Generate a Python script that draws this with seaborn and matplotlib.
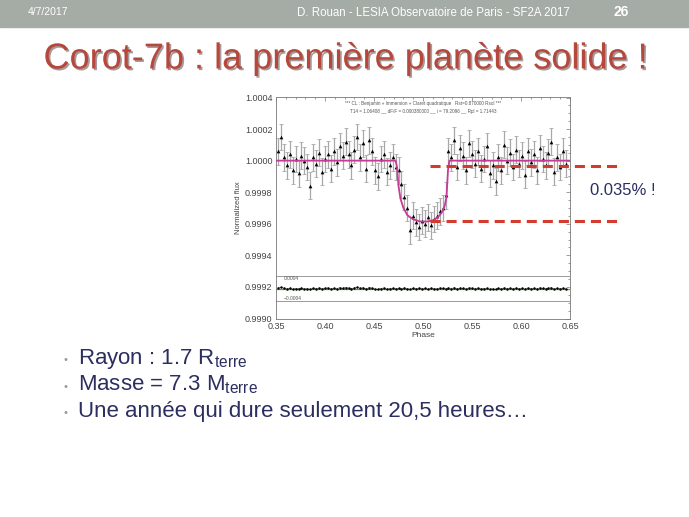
import matplotlib
matplotlib.use("Agg")
import matplotlib.pyplot as plt
import matplotlib.patheffects as pe
from matplotlib.patches import Rectangle
from matplotlib.ticker import MultipleLocator, FormatStrFormatter
import numpy as np
import pandas as pd
import seaborn as sns

phase = [0.352, 0.355, 0.358, 0.361, 0.364, 0.367, 0.370, 0.373, 0.376, 0.379,
         0.382, 0.385, 0.388, 0.391, 0.394, 0.397, 0.400, 0.403, 0.406, 0.409,
         0.412, 0.415, 0.418, 0.421, 0.424, 0.427, 0.430, 0.433, 0.436, 0.439,
         0.442, 0.445, 0.448, 0.451, 0.454, 0.457, 0.460, 0.463, 0.466, 0.469,
         0.472, 0.475, 0.478, 0.481, 0.484, 0.487, 0.490, 0.493, 0.496, 0.499,
         0.502, 0.505, 0.508, 0.511, 0.514, 0.517, 0.520, 0.523, 0.526, 0.529,
         0.532, 0.535, 0.538, 0.541, 0.544, 0.547, 0.550, 0.553, 0.556, 0.559,
         0.562, 0.565, 0.568, 0.571, 0.574, 0.577, 0.580, 0.583, 0.586, 0.589,
         0.592, 0.595, 0.598, 0.601, 0.604, 0.607, 0.610, 0.613, 0.616, 0.619,
         0.622, 0.625, 0.628, 0.631, 0.634, 0.637, 0.640, 0.643, 0.646]

# flux normalise, ecart a 1 en ppm
flux_ppm = [60, 150, 20, -30, 40, -60, 10, -80, 30, 0,
            -40, -160, 20, -20, 50, -70, 10, 40, -50, 60,
            -10, 90, 30, 120, 40, -30, 70, 150, 20, 110,
            -50, 130, 60, -60, -100, 10, 40, -70, -30, 20,
            -40, -60, -150, -230, -300, -440, -350, -390, -420, -380,
            -400, -360, -410, -370, -350, -320, -300, -220, 60, 20,
            130, -40, 80, 30, -60, 110, 40, -20, 60, -50,
            10, 90, -80, -30, -130, 20, -60, 100, 0, 50,
            -40, 70, -20, 30, -90, 60, -10, 40, -60, 80,
            10, -30, 50, 120, -70, 20, -40, 60, -20]
flux_err_ppm = 85

# residus (affiches autour de 0.99919, en ppm d'unite du graphe)
resid_ppm = [4, 8, 2, -3, 1, -5, 0, -2, 3, -4,
             -1, -6, 2, 0, 3, -2, 1, 4, -3, 2,
             0, 5, 1, 6, 3, -2, 4, 7, 1, 5,
             -3, 6, 2, -4, -5, 0, 3, -4, -1, 2,
             -2, 1, -3, 4, 0, -6, 2, -1, 3, -2,
             1, -4, 2, 0, -3, 3, 1, -2, 4, 0,
             5, -2, 3, 1, -4, 4, 2, -1, 3, -3,
             0, 2, -5, -2, -6, 1, -3, 4, 0, 2,
             -2, 3, -1, 1, -4, 3, 0, 2, -3, 4,
             1, -2, 2, 5, -4, 1, -2, 3, -1]
resid_center = 0.99919
resid_band = [0.99927, 0.99911]

# modele de transit
model_phase = [0.35, 0.472, 0.4735, 0.475, 0.477, 0.480, 0.484, 0.490, 0.497,
               0.504, 0.510, 0.515, 0.519, 0.522, 0.524, 0.5255, 0.527, 0.65]
model_ppm = [0, 0, -40, -160, -240, -300, -345, -372, -385,
             -386, -378, -360, -330, -290, -230, -60, 0, 0]

depth_levels = [0.999968, 0.999618]

bullets = [r"Rayon : 1.7 R$_\mathrm{terre}$",
           r"Masse = 7.3 M$_\mathrm{terre}$",
           "Une année qui dure seulement 20,5 heures…"]

sns.set_style("white")
plt.rcParams['font.family'] = ['Liberation Sans', 'DejaVu Sans']
plt.rcParams['mathtext.fontset'] = 'custom'
plt.rcParams['mathtext.rm'] = 'Liberation Sans'
plt.rcParams['mathtext.it'] = 'Liberation Sans:italic'

W, H = 689, 517
fig = plt.figure(figsize=(W / 100, H / 100), dpi=100)


def px(x, y):
    return x / W, 1 - y / H


# bandeau gris
fig.patches.append(Rectangle((0, 1 - 27 / H), 1, 27 / H, transform=fig.transFigure,
                             color='#a4aca5', zorder=0))
fig.text(*px(28, 12), "4/7/2017", color='white', fontsize=7.5, va='center')
fig.text(*px(297, 13), "D. Rouan - LESIA Observatoire de Paris - SF2A 2017",
         color='white', fontsize=8.3, va='center')
fig.text(*px(613, 12), "26", color='white', fontsize=10, va='center', weight='bold')

# titre
fig.text(*px(345, 68.5), "Corot-7b : la première planète solide !", color='#b6473b',
         fontsize=26, ha='center', va='baseline',
         path_effects=[pe.SimplePatchShadow(offset=(1.2, -1.2), shadow_rgbFace='#3a2020',
                                            alpha=0.45), pe.Normal()])

# courbe de lumiere
df = pd.DataFrame({'phase': phase, 'flux': 1 + np.array(flux_ppm) * 1e-6,
                   'resid': resid_center + np.array(resid_ppm) * 1e-6})
model = pd.DataFrame({'phase': model_phase, 'flux': 1 + np.array(model_ppm) * 1e-6})

ax = fig.add_axes([276 / W, 1 - 318.5 / H, 294 / W, 221 / H])
ax.errorbar(df['phase'], df['flux'], yerr=flux_err_ppm * 1e-6, fmt='none',
            ecolor='#a8a8a8', elinewidth=0.9, capsize=1.5, capthick=0.6, zorder=2)
sns.scatterplot(data=df, x='phase', y='flux', marker='^', s=7, color='k',
                linewidth=0, ax=ax, zorder=3)
sns.lineplot(data=model, x='phase', y='flux', color='#c73a98', lw=1.3, ax=ax, zorder=4)

for lvl in resid_band:
    ax.axhline(lvl, color='#8a8a8a', lw=0.6)
ax.axhline(resid_center, color='#5da02e', lw=0.9, zorder=2)
sns.lineplot(data=df, x='phase', y='resid', color='#222', lw=0.35, marker='o', ms=1.0,
             mec='k', ax=ax, zorder=3)
ax.text(0.358, resid_band[0] - 0.000003, "0.0004", fontsize=3.5, color='#555', va='top')
ax.text(0.358, resid_band[1] + 0.000003, "\u22120.0004", fontsize=3.5, color='#555',
        va='bottom')

ax.text(0.5, 0.982, "*** CL : Benjamin + Immersion + Claret quadratique   Rst=0.870000 Rsol ***",
        transform=ax.transAxes, ha='center', va='top', fontsize=3.3, color='#555')
ax.text(0.5, 0.95, "T14 = 1.06408 __ dF/F = 0.000380000 __ i = 79.2096 __ Rpl = 1.71443",
        transform=ax.transAxes, ha='center', va='top', fontsize=3.3, color='#555')

ax.set_xlim(0.35, 0.65)
ax.set_ylim(0.9990, 1.0004)
ax.xaxis.set_major_locator(MultipleLocator(0.05))
ax.xaxis.set_minor_locator(MultipleLocator(0.01))
ax.yaxis.set_major_locator(MultipleLocator(0.0002))
ax.yaxis.set_minor_locator(MultipleLocator(0.00005))
ax.xaxis.set_major_formatter(FormatStrFormatter('%.2f'))
ax.yaxis.set_major_formatter(FormatStrFormatter('%.4f'))
ax.tick_params(which='both', direction='in', top=True, right=True, color='#777',
               labelsize=6.5, labelcolor='#444', width=0.5)
ax.tick_params(which='major', length=3, pad=2.5)
ax.tick_params(which='minor', length=1.5)
for s in ax.spines.values():
    s.set_color('#777')
    s.set_linewidth(0.6)
ax.set_xlabel("Phase", fontsize=6, color='#444', labelpad=1)
ax.set_ylabel("Normalized flux", fontsize=5.5, color='#444', labelpad=2)

# profondeur du transit
for lvl in depth_levels:
    ax.plot([0.507, 0.701], [lvl, lvl], color='#d33b2e', lw=2.2, ls=(0, (3.3, 1.95)),
            clip_on=False, zorder=6)
fig.text(*px(590, 191), "0.035% !", color='#2b2e63', fontsize=12, va='center')

# puces
for i, line in enumerate(bullets):
    yb = 364 + 26.5 * i
    fig.text(*px(64, yb - 1), "•", color='#9a9a9a', fontsize=8, va='baseline')
    fig.text(*px(78, yb), line, color='#2b2e5f', fontsize=16, va='baseline')

fig.savefig("out.png", dpi=100)
